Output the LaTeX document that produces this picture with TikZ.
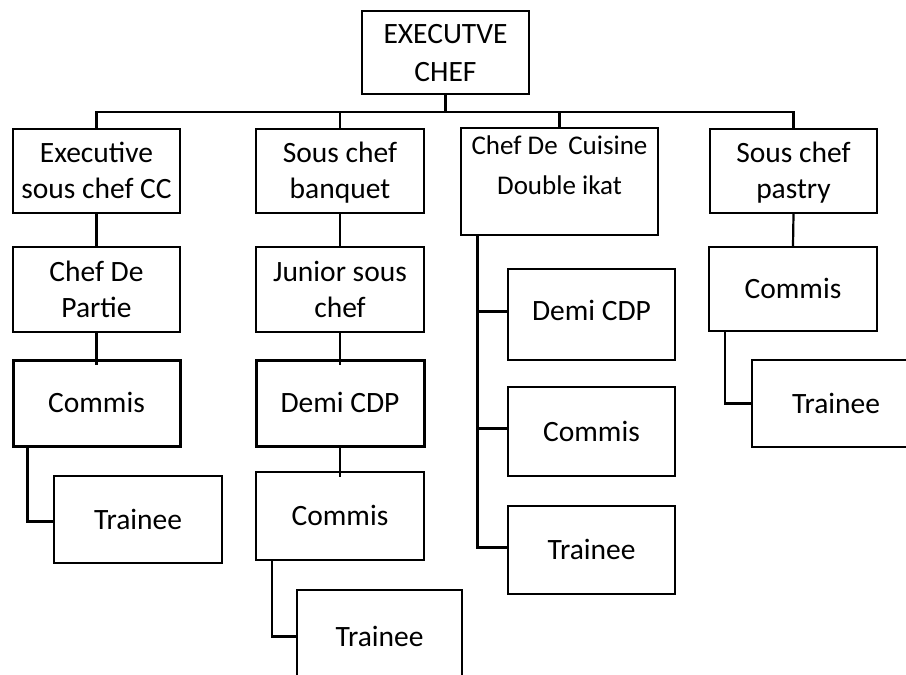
\documentclass[tikz,border=0pt]{standalone}
\usepackage{fontspec}
\setmainfont{Carlito}
\newcommand\sx{\rule[-8.5pt]{0pt}{36pt}}
\tikzset{
  box/.style={draw=black, line width=2pt, inner sep=0pt, align=center,
    font=\fontsize{29.5}{36}\selectfont},
  boldbox/.style={box, line width=3pt},
  link/.style={draw=black, line width=2.2pt},
  heavylink/.style={draw=black, line width=3pt}
}
\begin{document}
\begin{tikzpicture}[x=1pt,y=-1pt]
\useasboundingbox (0,0) rectangle (906,675);
\clip (0,0) rectangle (906,675);
\fill[white] (0,0) rectangle (906,675);
% level 0
\node[box, minimum width=167pt, minimum height=83pt, font=\fontsize{29.5}{38}\selectfont] (exec) at (445.5,52.5) {\sx EXECUTVE\\\sx CHEF};
% level 1
\node[box, minimum width=167pt, minimum height=84pt] (esc) at (96.5,171) {\sx Executive\\\sx sous chef CC};
\node[box, minimum width=168pt, minimum height=84pt] (scb) at (340,171) {\sx Sous chef\\\sx banquet};
\node[box, minimum width=197pt, minimum height=105pt, font=\fontsize{27}{40}\selectfont] (cdc) at (559.5,181.5) {\rule[-14pt]{0pt}{40pt}Chef De\ \,Cuisine\\\rule[-41pt]{0pt}{67pt}Double ikat};
\node[box, minimum width=167pt, minimum height=84pt] (scp) at (793.5,171) {\sx Sous chef\\\sx pastry};
% column 1
\node[box, minimum width=167pt, minimum height=85pt] (cdp) at (96.5,289.5) {\sx Chef De\\\sx Partie};
\node[boldbox, minimum width=167pt, minimum height=86pt] (com1) at (96.5,403) {\sx Commis};
\node[box, minimum width=168pt, minimum height=87pt] (tr1) at (138,519.5) {\sx Trainee};
% column 2
\node[box, minimum width=168pt, minimum height=85pt] (jsc) at (340,289.5) {\sx Junior sous\\\sx chef};
\node[boldbox, minimum width=168pt, minimum height=86pt] (demi2) at (340,403) {\sx Demi CDP};
\node[box, minimum width=168pt, minimum height=88pt] (com2) at (340,516) {\sx Commis};
\node[box, minimum width=165pt, minimum height=93pt] (tr2) at (379.5,636.5) {\sx Trainee};
% column 3
\node[box, minimum width=167pt, minimum height=91pt] (demi3) at (591.5,314.5) {\rule[-12pt]{0pt}{36pt}Demi CDP};
\node[box, minimum width=167pt, minimum height=89pt] (com3) at (591.5,431.5) {\sx Commis};
\node[box, minimum width=167pt, minimum height=88pt] (tr3) at (591.5,550) {\sx Trainee};
% column 4
\node[box, minimum width=168pt, minimum height=84pt] (com4) at (793,289) {\sx Commis};
\node[box, minimum width=168pt, minimum height=87pt] (tr4) at (836,403.5) {\sx Trainee};
% top connectors
\coordinate (bar) at (445.5,112);
\draw[heavylink] (exec.south) -- (exec.south |- bar);
\draw[link] (esc.north) -- (esc.north |- bar) -- (scp.north |- bar) -- (scp.north);
\draw[link] (scb.north) -- (scb.north |- bar);
\draw[link] (cdc.north) -- (cdc.north |- bar);
% column 1
\draw[link] (esc.south) -- (cdp.north);
\draw[link] (cdp.south) -- ([yshift=-6pt]com1.north);
\draw[link] ([xshift=16pt]com1.south west) |- ([yshift=-2pt]tr1.west);
% column 2
\draw[link] (scb.south) -- (jsc.north);
\draw[link] (jsc.south) -- ([yshift=-6pt]demi2.north);
\draw[link] (demi2.south) -- ([yshift=-6pt]com2.north);
\draw[link] ([xshift=17pt]com2.south west) |- (tr2.west);
% column 3
\draw[heavylink] ([xshift=17pt]cdc.south west) |- ([yshift=3pt]tr3.west);
\draw[link] ([xshift=17pt]cdc.south west) |- ([yshift=3pt]demi3.west);
\draw[link] ([xshift=17pt]cdc.south west) |- ([yshift=3pt]com3.west);
% column 4
\draw[link] (scp.south) -- (com4.north);
\draw[link] ([xshift=17pt]com4.south west) |- (tr4.west);
\end{tikzpicture}
\end{document}
